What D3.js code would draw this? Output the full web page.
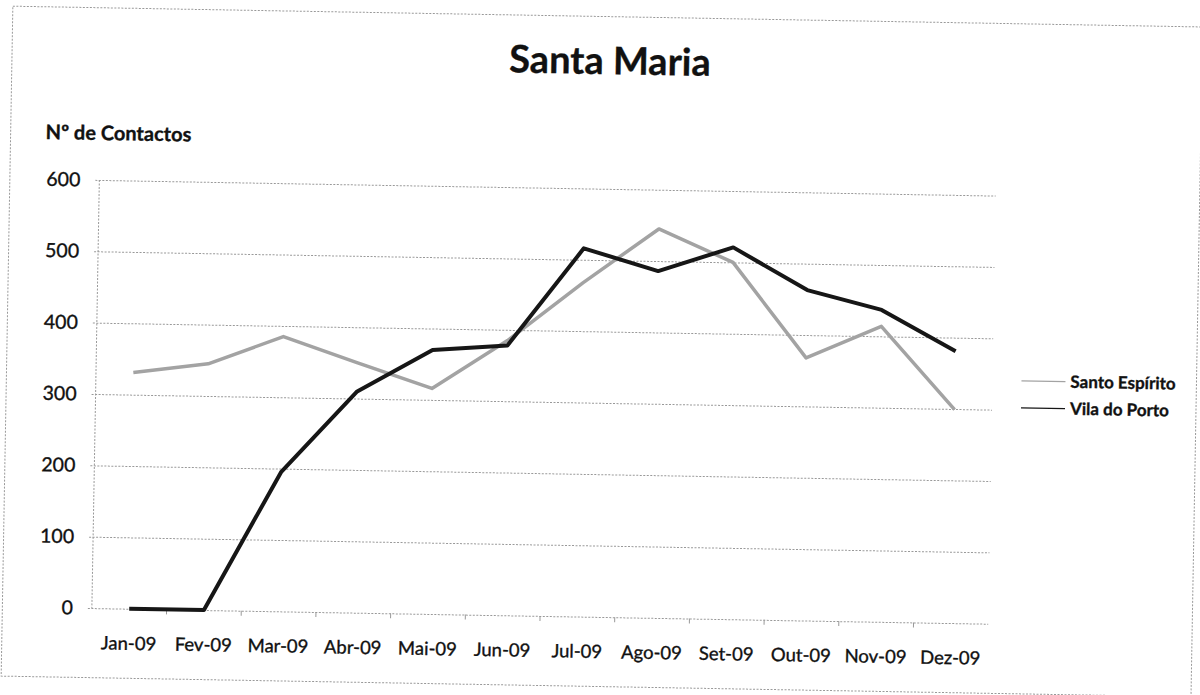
<!DOCTYPE html>
<html>
<head>
<meta charset="utf-8">
<title>Santa Maria</title>
<script src="https://cdn.jsdelivr.net/npm/d3@7"></script>
<style>
    html, body { margin: 0; padding: 0; background: #fff; }
    svg { display: block; }
    text { font-family: Lato, "Open Sans", sans-serif; fill: #111; stroke: #111; stroke-width: 0.35px; }
</style>
</head>
<body>
<div id="chart"></div>
<script>
// data
const months = ['Jan-09', 'Fev-09', 'Mar-09', 'Abr-09', 'Mai-09', 'Jun-09',
                'Jul-09', 'Ago-09', 'Set-09', 'Out-09', 'Nov-09', 'Dez-09'];
const santoEspirito = [331, 345, 385, 350, 316, 385, 468, 545, 500, 368, 414, 299];
const vilaDoPorto = [0, 0, 195, 310, 370, 378, 516, 486, 521, 463, 437, 381];
const yTicks = [0, 100, 200, 300, 400, 500, 600];
const seriesNames = ['Santo Espírito', 'Vila do Porto'];

const W = 1200, H = 695;
const plot = { left: 96.5, right: 993, top: 188.7, bottom: 616.9 };

const svg = d3.select('#chart')
              .append('svg')
              .attr('width', W)
              .attr('height', H);

// the scanned page sits slightly rotated
const g = svg.append('g')
             .attr('transform', 'rotate(1.0, 600, 347)');

// outer frame
g.append('rect')
 .attr('x', 7)
 .attr('y', 16.5)
 .attr('width', 1190)
 .attr('height', 670)
 .attr('fill', 'none')
 .attr('stroke', '#999')
 .attr('stroke-width', 1)
 .attr('stroke-dasharray', '2,1.5');

// scales
const x = d3.scaleBand()
            .domain(months)
            .range([plot.left, plot.right]);
const cx = m => x(m) + x.bandwidth() / 2;

const y = d3.scaleLinear()
            .domain([0, 600])
            .range([plot.bottom, plot.top]);

// gridlines + y labels
const yAxis = g.append('g')
               .attr('transform', `translate(${plot.left},0)`)
               .call(d3.axisLeft(y)
                       .tickValues(yTicks)
                       .tickSize(-(plot.right - plot.left))
                       .tickPadding(19)
                       .tickFormat(d3.format('d')));
yAxis.select('.domain')
     .attr('stroke', '#999')
     .attr('stroke-dasharray', '2,1.5')
     .attr('d', `M0,${plot.top}V${plot.bottom}`);
yAxis.selectAll('.tick line')
     .attr('x1', -4)
     .attr('stroke', '#999')
     .attr('stroke-width', 1)
     .attr('stroke-dasharray', '2,1.5');
yAxis.selectAll('.tick text')
     .style('font-size', '19.5px')
     .attr('fill', '#111');

// x axis ticks and labels
const xAxis = g.append('g')
               .attr('transform', `translate(0,${plot.bottom})`)
               .call(d3.axisBottom(x).tickSize(0).tickPadding(28));
xAxis.select('.domain').remove();
xAxis.selectAll('.tick text')
     .style('font-size', '18.5px')
     .attr('fill', '#111');

g.append('g')
 .selectAll('line')
 .data(months.slice(1))
 .enter()
 .append('line')
 .attr('x1', d => x(d))
 .attr('x2', d => x(d))
 .attr('y1', plot.bottom)
 .attr('y2', plot.bottom + 5)
 .attr('stroke', '#999');

// lines
const line = d3.line()
               .x((d, i) => cx(months[i]))
               .y(d => y(d));

g.append('path')
 .datum(santoEspirito)
 .attr('d', line)
 .attr('fill', 'none')
 .attr('stroke', '#a3a3a3')
 .attr('stroke-width', 3.5)
 .attr('stroke-linejoin', 'round');

g.append('path')
 .datum(vilaDoPorto)
 .attr('d', line)
 .attr('fill', 'none')
 .attr('stroke', '#161616')
 .attr('stroke-width', 4)
 .attr('stroke-linejoin', 'round');

// title
g.append('text')
 .attr('x', 605)
 .attr('y', 74)
 .attr('text-anchor', 'middle')
 .style('font-size', '38px')
 .style('font-weight', 'bold')
 .text('Santa Maria');

g.append('text')
 .attr('x', 42)
 .attr('y', 148.7)
 .style('font-size', '20px')
 .style('font-weight', 'bold')
 .text('Nº de Contactos');

// legend
const legendColors = ['#a3a3a3', '#161616'];
const legend = g.selectAll('.legend')
                .data(seriesNames)
                .enter()
                .append('g')
                .attr('class', 'legend')
                .attr('transform', (d, i) => `translate(0,${373.5 + i * 27})`);

legend.append('line')
      .attr('x1', 1022)
      .attr('x2', 1066)
      .attr('stroke', (d, i) => legendColors[i])
      .attr('stroke-width', 1.2);

legend.append('text')
      .attr('x', 1071)
      .attr('y', 6)
      .style('font-size', '17px')
      .style('font-weight', 'bold')
      .text(d => d);
</script>
</body>
</html>
